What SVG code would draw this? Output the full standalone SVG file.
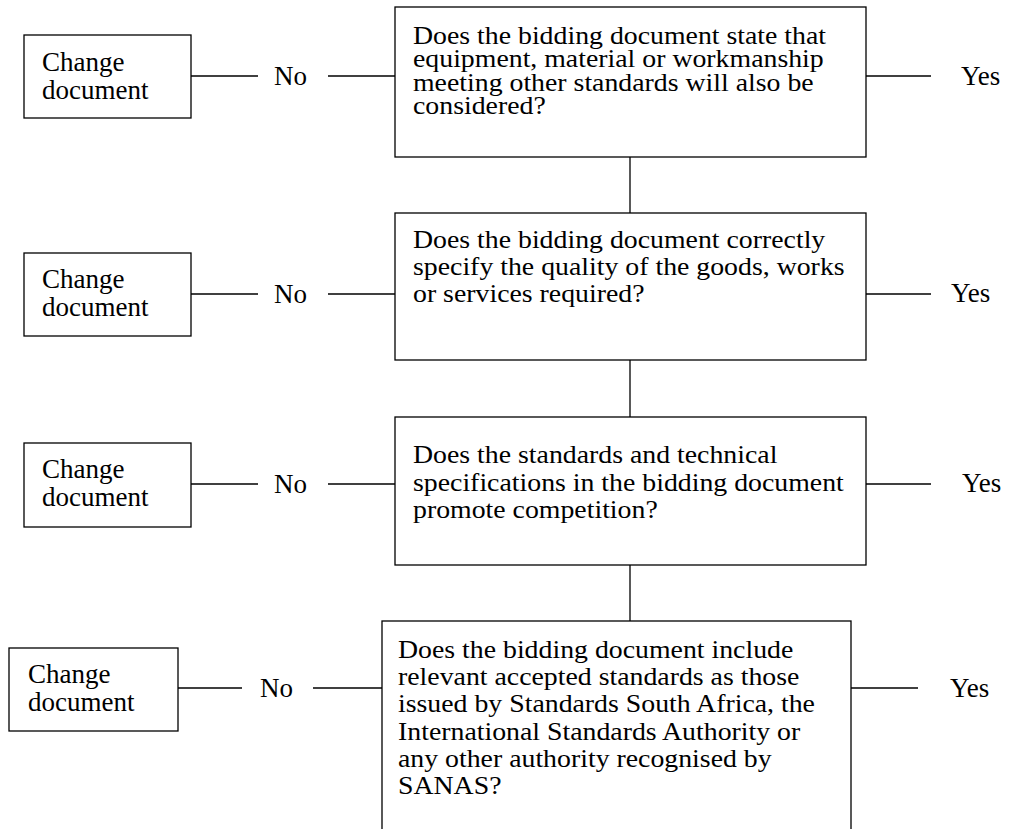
<svg xmlns="http://www.w3.org/2000/svg" width="1012" height="829" viewBox="0 0 1012 829">
<style>
.box{fill:#fff;stroke:#000;stroke-width:1.3}
.ln{stroke:#000;stroke-width:1.3;fill:none}
text{font-family:"Liberation Serif","Times New Roman",serif;font-size:27px;fill:#000}
.q text{font-size:26px}
</style>
<rect width="1012" height="829" fill="#fff"/>
<g id="connectors">
<line class="ln" x1="191" y1="76" x2="258" y2="76"/>
<line class="ln" x1="328" y1="76" x2="395" y2="76"/>
<line class="ln" x1="866" y1="76" x2="931" y2="76"/>
<text x="274" y="85">No</text>
<text x="961" y="85">Yes</text>
<line class="ln" x1="630" y1="157" x2="630" y2="213"/>
<line class="ln" x1="191" y1="294" x2="258" y2="294"/>
<line class="ln" x1="328" y1="294" x2="395" y2="294"/>
<line class="ln" x1="866" y1="294" x2="931" y2="294"/>
<text x="274" y="303">No</text>
<text x="951" y="302">Yes</text>
<line class="ln" x1="630" y1="360" x2="630" y2="417"/>
<line class="ln" x1="191" y1="484" x2="258" y2="484"/>
<line class="ln" x1="328" y1="484" x2="395" y2="484"/>
<line class="ln" x1="866" y1="484" x2="931" y2="484"/>
<text x="274" y="493">No</text>
<text x="962" y="492">Yes</text>
<line class="ln" x1="630" y1="565" x2="630" y2="621"/>
<line class="ln" x1="178" y1="688" x2="242" y2="688"/>
<line class="ln" x1="313" y1="688" x2="382" y2="688"/>
<line class="ln" x1="851" y1="688" x2="918" y2="688"/>
<text x="260" y="697">No</text>
<text x="950" y="697">Yes</text>
</g>
<g id="change1">
<rect class="box" x="24" y="35" width="167" height="83"/>
<text x="42" y="71">Change</text>
<text x="42" y="99">document</text>
</g>
<g id="q1" class="q">
<rect class="box" x="395" y="7" width="471" height="150"/>
<g transform="translate(413 0) scale(1.07 1)">
<text x="0" y="44">Does the bidding document state that</text>
<text x="0" y="67.5">equipment, material or workmanship</text>
<text x="0" y="91">meeting other standards will also be</text>
<text x="0" y="114.5">considered?</text>
</g>
</g>
<g id="change2">
<rect class="box" x="24" y="253" width="167" height="83"/>
<text x="42" y="288">Change</text>
<text x="42" y="316">document</text>
</g>
<g id="q2" class="q">
<rect class="box" x="395" y="213" width="471" height="147"/>
<g transform="translate(413 0) scale(1.07 1)">
<text x="0" y="248">Does the bidding document correctly</text>
<text x="0" y="275">specify the quality of the goods, works</text>
<text x="0" y="302">or services required?</text>
</g>
</g>
<g id="change3">
<rect class="box" x="24" y="443" width="167" height="84"/>
<text x="42" y="478">Change</text>
<text x="42" y="506">document</text>
</g>
<g id="q3" class="q">
<rect class="box" x="395" y="417" width="471" height="148"/>
<g transform="translate(413 0) scale(1.07 1)">
<text x="0" y="463">Does the standards and technical</text>
<text x="0" y="491">specifications in the bidding document</text>
<text x="0" y="518">promote competition?</text>
</g>
</g>
<g id="change4">
<rect class="box" x="9" y="648" width="169" height="83"/>
<text x="28" y="683">Change</text>
<text x="28" y="711">document</text>
</g>
<g id="q4" class="q">
<rect class="box" x="382" y="621" width="469" height="220"/>
<g transform="translate(398 0) scale(1.07 1)">
<text x="0" y="658">Does the bidding document include</text>
<text x="0" y="685">relevant accepted standards as those</text>
<text x="0" y="712">issued by Standards South Africa, the</text>
<text x="0" y="740">International Standards Authority or</text>
<text x="0" y="767">any other authority recognised by</text>
<text x="0" y="794">SANAS?</text>
</g>
</g>
</svg>
